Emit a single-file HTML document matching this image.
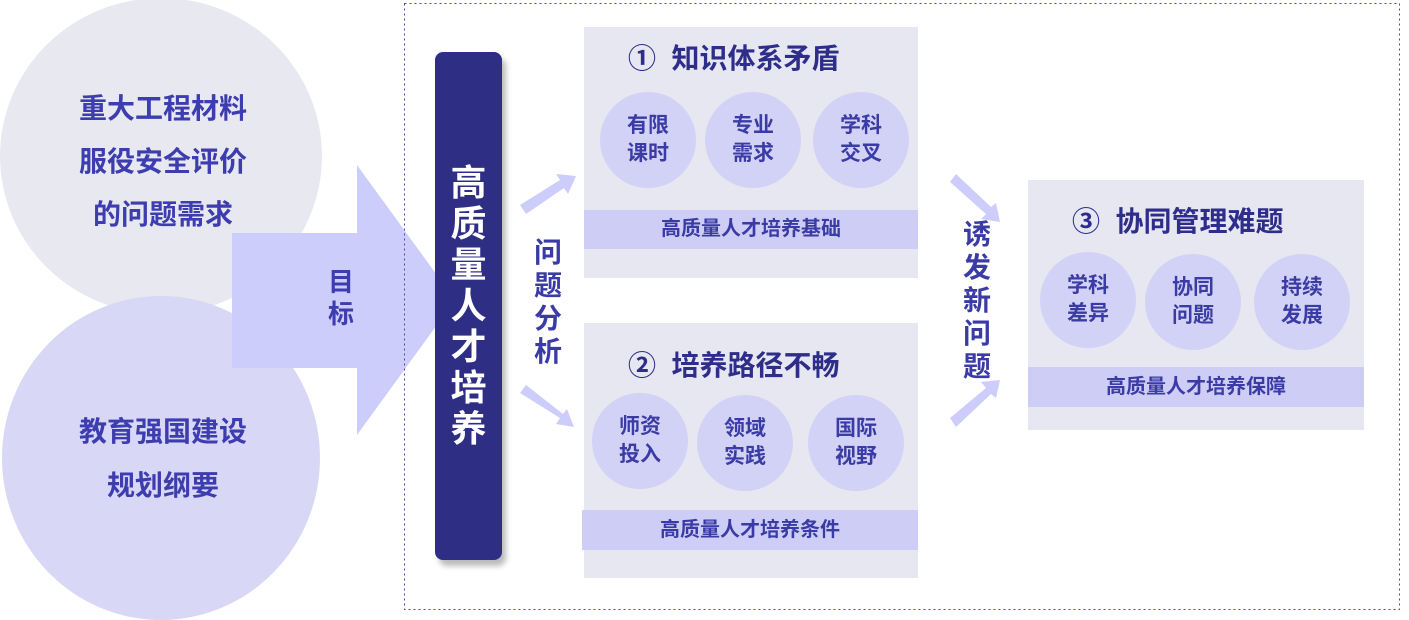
<!DOCTYPE html>
<html><head><meta charset="utf-8"><style>
body{margin:0;width:1409px;height:620px;background:#fff;position:relative;overflow:hidden;font-family:"Liberation Sans","Noto Sans CJK SC",sans-serif;font-weight:bold;color:#3b3ba6}
.a{position:absolute}
.c{position:absolute;border-radius:50%}
.box{position:absolute;background:#e7e7f1}
.band{position:absolute;background:#cdcdf6;text-align:center;font-size:20px;color:#3b3ba6}
.sc{position:absolute;width:96px;height:96px;border-radius:50%;background:#d2d2f6;display:flex;align-items:center;justify-content:center;text-align:center;font-size:21px;line-height:28px;color:#3b3ba6}
.t{position:absolute;font-size:28px;color:#2e2e8a;white-space:nowrap}
.v{position:absolute;font-size:28px;line-height:33px;width:34px;text-align:center;color:#3b3ba6}
</style></head><body>
<div class="c" style="left:0;top:-2px;width:322px;height:316px;background:#e8e8f0"></div>
<div class="c" style="left:2px;top:296px;width:318px;height:324px;background:#d6d6f6;opacity:.95"></div>
<svg class="a" style="left:0;top:0" width="1409" height="620">
<polygon points="232,233 357,233 357,165 455,300 357,435 357,368 232,368" fill="#cdcdfb"/>
<rect x="404.5" y="3.5" width="995" height="606" fill="none" stroke="#4a4a9a" stroke-dasharray="2,3"/>
<g fill="#cdcdfb">
<polygon points="520,205 560,180 556,174 576,176 568,194 564,188 526,214"/>
<polygon points="520,393 560,418 556,424 574,427 567,409 563,414 526,385"/>
<polygon points="950,182 986,214 981,219 1000,222 996,203 991,207 956,174"/>
<polygon points="950,418 986,388 981,382 1000,380 996,398 991,394 956,427"/>
</g>
</svg>
<div class="a" style="left:70px;top:82px;width:186px;text-align:center;font-size:28px;line-height:53px;color:#3d3db0">重大工程材料<br>服役安全评价<br>的问题需求</div>
<div class="a" style="left:70px;top:405px;width:186px;text-align:center;font-size:28px;line-height:54px;color:#3d3db0">教育强国建设<br>规划纲要</div>
<div class="a" style="left:328px;top:266px;font-size:26px;line-height:32px;color:#3d3db0">目<br>标</div>
<div class="a" style="left:435px;top:52px;width:67px;height:508px;background:#2e2e84;border-radius:8px;box-shadow:4px 6px 6px #bbb"></div>
<div class="a" style="left:435px;top:162px;width:67px;text-align:center;color:#fff;font-size:36px;line-height:41px">高<br>质<br>量<br>人<br>才<br>培<br>养</div>
<div class="v" style="left:531px;top:236px">问<br>题<br>分<br>析</div>
<div class="v" style="left:960px;top:218px">诱<br>发<br>新<br>问<br>题</div>

<div class="box" style="left:584px;top:27px;width:334px;height:251px"></div>
<div class="t" style="left:628px;top:37px">①&nbsp;&nbsp;知识体系矛盾</div>
<div class="sc" style="left:600px;top:92px">有限<br>课时</div>
<div class="sc" style="left:705px;top:92px">专业<br>需求</div>
<div class="sc" style="left:813px;top:92px">学科<br>交叉</div>
<div class="band" style="left:584px;top:210px;width:334px;height:39px;line-height:39px">高质量人才培养基础</div>

<div class="box" style="left:584px;top:323px;width:334px;height:255px"></div>
<div class="t" style="left:628px;top:344px">②&nbsp;&nbsp;培养路径不畅</div>
<div class="sc" style="left:592px;top:393px">师资<br>投入</div>
<div class="sc" style="left:697px;top:395px">领域<br>实践</div>
<div class="sc" style="left:808px;top:395px">国际<br>视野</div>
<div class="band" style="left:582px;top:510px;width:336px;height:40px;line-height:40px">高质量人才培养条件</div>

<div class="box" style="left:1028px;top:180px;width:336px;height:250px"></div>
<div class="t" style="left:1072px;top:200px">③&nbsp;&nbsp;协同管理难题</div>
<div class="sc" style="left:1040px;top:252px">学科<br>差异</div>
<div class="sc" style="left:1145px;top:254px">协同<br>问题</div>
<div class="sc" style="left:1254px;top:254px">持续<br>发展</div>
<div class="band" style="left:1028px;top:367px;width:336px;height:40px;line-height:40px">高质量人才培养保障</div>
</body></html>
